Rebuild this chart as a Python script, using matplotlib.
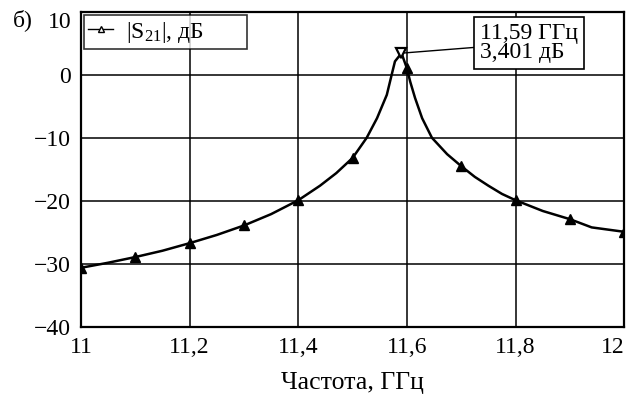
import matplotlib
matplotlib.use("Agg")
import matplotlib.pyplot as plt

plt.rcParams["font.family"] = ["Liberation Serif", "DejaVu Serif"]
plt.rcParams["mathtext.fontset"] = "custom"
plt.rcParams["mathtext.rm"] = "Liberation Serif"

# |S21| trace, frequency in GHz and level in dB
freq = [11.00, 11.05, 11.10, 11.15, 11.20, 11.25, 11.30, 11.35, 11.40,
        11.44, 11.47, 11.50, 11.526, 11.545, 11.563, 11.572, 11.578,
        11.59, 11.60, 11.606, 11.615, 11.628, 11.646, 11.674, 11.70,
        11.725, 11.75, 11.775, 11.80, 11.85, 11.90, 11.94, 12.00]
s21 = [-30.6, -29.8, -28.9, -27.9, -26.7, -25.4, -23.9, -22.1, -19.9,
       -17.6, -15.6, -13.2, -10.0, -6.9, -3.2, 0.0, 2.1,
       3.401, 1.0, -1.1, -3.7, -6.9, -10.0, -12.6, -14.5,
       -16.2, -17.6, -18.9, -19.9, -21.6, -22.9, -24.2, -24.9]

# marker positions along the trace
mark_freq = [11.00, 11.10, 11.20, 11.30, 11.40, 11.50, 11.60, 11.70, 11.80, 11.90, 12.00]
mark_s21 = [-30.6, -28.9, -26.7, -23.9, -19.9, -13.2, 1.0, -14.5, -19.9, -22.9, -24.9]

# peak marker
peak_freq = 11.59
peak_s21 = 3.401

xticks = [11.0, 11.2, 11.4, 11.6, 11.8, 12.0]
xtick_labels = ["11", "11,2", "11,4", "11,6", "11,8", "12"]
yticks = [-40, -30, -20, -10, 0, 10]

FS = 17

fig = plt.figure(figsize=(6.37, 3.97), dpi=100)
ax = fig.add_axes([0.127, 0.176, 0.853, 0.795])

ax.plot(freq, s21, color="black", lw=1.8, zorder=3)
ax.plot(mark_freq, mark_s21, ls="none", marker="^", ms=7, mfc="black",
        mec="black", zorder=4)
ax.plot([peak_freq], [peak_s21], ls="none", marker="v", ms=6.5, mfc="white",
        mec="black", mew=1.6, zorder=5)

# legend entry drawn with an open triangle
ax.plot([], [], color="black", lw=1, marker="^", ms=5, mfc="white",
        mec="black", label="|S$\\mathregular{_{21}}$|, дБ")
h, l = ax.get_legend_handles_labels()
leg = ax.legend(h[-1:], l[-1:], loc="upper left",
                bbox_to_anchor=(0.005, 0.5, 0.30, 0.489), mode="expand",
                frameon=True, fancybox=False, edgecolor="black", fontsize=FS,
                handlelength=1.05, borderpad=0.2, borderaxespad=0.0,
                handletextpad=0.55)
leg.get_frame().set_linewidth(1.2)
leg.set_zorder(10)

ax.annotate("11,59 ГГц\n3,401 дБ", xy=(peak_freq, peak_s21),
            xytext=(11.735, 5.0), textcoords="data", fontsize=FS,
            ha="left", va="center", linespacing=0.85,
            bbox=dict(boxstyle="square,pad=0.25", fc="white", ec="black", lw=1.2),
            arrowprops=dict(arrowstyle="-", color="black", lw=1,
                            shrinkA=0, shrinkB=2),
            zorder=10)

ax.set_xlim(11.0, 12.0)
ax.set_ylim(-40, 10)
ax.set_xticks(xticks)
ax.set_xticklabels(xtick_labels)
ax.set_yticks(yticks)
ax.tick_params(length=0, labelsize=FS)
ax.tick_params(axis="y", pad=7)
ax.tick_params(axis="x", pad=7)
ax.get_xticklabels()[-1].set_ha("right")
ax.get_yticklabels()[-1].set_va("top")
ax.grid(True, color="black", lw=1.1)
for sp in ax.spines.values():
    sp.set_linewidth(1.6)

ax.set_xlabel("Частота, ГГц", fontsize=18.5, labelpad=10)
fig.text(0.02, 0.95, "б)", fontsize=FS, ha="left", va="center")

fig.savefig("out.png", dpi=100)
